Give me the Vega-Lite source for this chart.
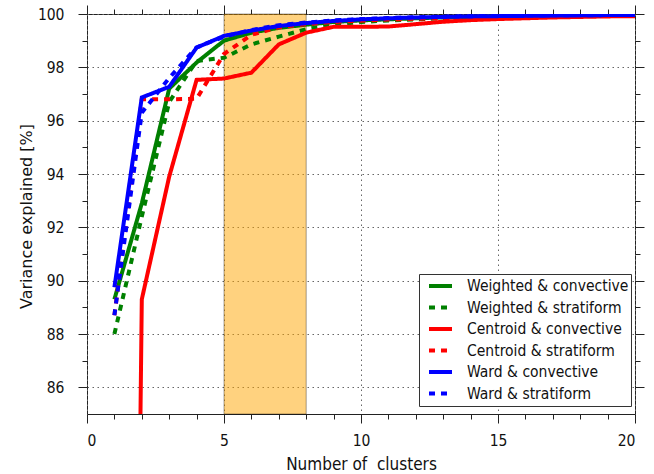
{
  "$schema": "https://vega.github.io/schema/vega-lite/v6.json",
  "width": 548,
  "height": 400,
  "autosize": {"type": "none"},
  "padding": {"left": 87, "top": 14, "right": 19, "bottom": 60},
  "background": "white",
  "config": {
    "view": {"stroke": "#222", "strokeWidth": 1},
    "axis": {
      "domain": false,
      "tickColor": "#222",
      "tickWidth": 1,
      "labelFont": "DejaVu Sans Condensed, DejaVu Sans",
      "labelFontSize": 15.5,
      "labelColor": "#111",
      "titleFont": "DejaVu Sans Condensed, DejaVu Sans",
      "titleFontSize": 17,
      "titleFontWeight": "normal",
      "titleColor": "#111",
      "gridColor": "#666",
      "gridDash": [1.5, 3.5],
      "gridWidth": 1
    },
    "legend": {
      "symbolType": "stroke",
      "symbolSize": 529,
      "symbolStrokeWidth": 4,
      "labelFont": "DejaVu Sans Condensed, DejaVu Sans",
      "labelFontSize": 15.5,
      "labelColor": "#111",
      "labelOffset": 13,
      "labelLimit": 400,
      "padding": 2,
      "symbolOffset": 6,
      "strokeColor": "#333",
      "fillColor": "white",
      "clipHeight": 20,
      "rowPadding": 1.5
    }
  },
  "datasets": {
    "band": [{"x0": 5, "x1": 8}],
    "lines": [
      {"s": "Weighted & convective", "x": 1, "y": 89.3},
      {"s": "Weighted & convective", "x": 2, "y": 92.9},
      {"s": "Weighted & convective", "x": 3, "y": 97.2},
      {"s": "Weighted & convective", "x": 4, "y": 98.18},
      {"s": "Weighted & convective", "x": 5, "y": 99.0},
      {"s": "Weighted & convective", "x": 6, "y": 99.3},
      {"s": "Weighted & convective", "x": 7, "y": 99.48},
      {"s": "Weighted & convective", "x": 8, "y": 99.6},
      {"s": "Weighted & convective", "x": 9, "y": 99.7},
      {"s": "Weighted & convective", "x": 10, "y": 99.76},
      {"s": "Weighted & convective", "x": 11, "y": 99.8},
      {"s": "Weighted & convective", "x": 12, "y": 99.84},
      {"s": "Weighted & convective", "x": 13, "y": 99.87},
      {"s": "Weighted & convective", "x": 14, "y": 99.89},
      {"s": "Weighted & convective", "x": 15, "y": 99.91},
      {"s": "Weighted & convective", "x": 16, "y": 99.92},
      {"s": "Weighted & convective", "x": 17, "y": 99.93},
      {"s": "Weighted & convective", "x": 18, "y": 99.94},
      {"s": "Weighted & convective", "x": 19, "y": 99.95},
      {"s": "Weighted & convective", "x": 20, "y": 99.95},
      {"s": "Weighted & stratiform", "x": 1, "y": 88.0},
      {"s": "Weighted & stratiform", "x": 2, "y": 92.4},
      {"s": "Weighted & stratiform", "x": 3, "y": 96.7},
      {"s": "Weighted & stratiform", "x": 4, "y": 98.24},
      {"s": "Weighted & stratiform", "x": 5, "y": 98.36},
      {"s": "Weighted & stratiform", "x": 6, "y": 98.86},
      {"s": "Weighted & stratiform", "x": 7, "y": 99.15},
      {"s": "Weighted & stratiform", "x": 8, "y": 99.43},
      {"s": "Weighted & stratiform", "x": 9, "y": 99.6},
      {"s": "Weighted & stratiform", "x": 10, "y": 99.7},
      {"s": "Weighted & stratiform", "x": 11, "y": 99.76},
      {"s": "Weighted & stratiform", "x": 12, "y": 99.8},
      {"s": "Weighted & stratiform", "x": 13, "y": 99.84},
      {"s": "Weighted & stratiform", "x": 14, "y": 99.87},
      {"s": "Weighted & stratiform", "x": 15, "y": 99.89},
      {"s": "Weighted & stratiform", "x": 16, "y": 99.9},
      {"s": "Weighted & stratiform", "x": 17, "y": 99.92},
      {"s": "Weighted & stratiform", "x": 18, "y": 99.93},
      {"s": "Weighted & stratiform", "x": 19, "y": 99.94},
      {"s": "Weighted & stratiform", "x": 20, "y": 99.95},
      {"s": "Centroid & convective", "x": 1, "y": 0},
      {"s": "Centroid & convective", "x": 2, "y": 89.3},
      {"s": "Centroid & convective", "x": 3, "y": 93.9},
      {"s": "Centroid & convective", "x": 4, "y": 97.53},
      {"s": "Centroid & convective", "x": 5, "y": 97.58},
      {"s": "Centroid & convective", "x": 6, "y": 97.8},
      {"s": "Centroid & convective", "x": 7, "y": 98.86},
      {"s": "Centroid & convective", "x": 8, "y": 99.3},
      {"s": "Centroid & convective", "x": 9, "y": 99.52},
      {"s": "Centroid & convective", "x": 10, "y": 99.52},
      {"s": "Centroid & convective", "x": 11, "y": 99.53},
      {"s": "Centroid & convective", "x": 12, "y": 99.62},
      {"s": "Centroid & convective", "x": 13, "y": 99.71},
      {"s": "Centroid & convective", "x": 14, "y": 99.77},
      {"s": "Centroid & convective", "x": 15, "y": 99.81},
      {"s": "Centroid & convective", "x": 16, "y": 99.84},
      {"s": "Centroid & convective", "x": 17, "y": 99.87},
      {"s": "Centroid & convective", "x": 18, "y": 99.89},
      {"s": "Centroid & convective", "x": 19, "y": 99.91},
      {"s": "Centroid & convective", "x": 20, "y": 99.92},
      {"s": "Centroid & stratiform", "x": 1, "y": 88.7},
      {"s": "Centroid & stratiform", "x": 2, "y": 96.8},
      {"s": "Centroid & stratiform", "x": 3, "y": 96.8},
      {"s": "Centroid & stratiform", "x": 4, "y": 96.82},
      {"s": "Centroid & stratiform", "x": 5, "y": 98.5},
      {"s": "Centroid & stratiform", "x": 6, "y": 99.22},
      {"s": "Centroid & stratiform", "x": 7, "y": 99.5},
      {"s": "Centroid & stratiform", "x": 8, "y": 99.62},
      {"s": "Centroid & stratiform", "x": 9, "y": 99.7},
      {"s": "Centroid & stratiform", "x": 10, "y": 99.75},
      {"s": "Centroid & stratiform", "x": 11, "y": 99.79},
      {"s": "Centroid & stratiform", "x": 12, "y": 99.82},
      {"s": "Centroid & stratiform", "x": 13, "y": 99.85},
      {"s": "Centroid & stratiform", "x": 14, "y": 99.87},
      {"s": "Centroid & stratiform", "x": 15, "y": 99.89},
      {"s": "Centroid & stratiform", "x": 16, "y": 99.9},
      {"s": "Centroid & stratiform", "x": 17, "y": 99.92},
      {"s": "Centroid & stratiform", "x": 18, "y": 99.93},
      {"s": "Centroid & stratiform", "x": 19, "y": 99.94},
      {"s": "Centroid & stratiform", "x": 20, "y": 99.95},
      {"s": "Ward & convective", "x": 1, "y": 89.75},
      {"s": "Ward & convective", "x": 2, "y": 96.87},
      {"s": "Ward & convective", "x": 3, "y": 97.27},
      {"s": "Ward & convective", "x": 4, "y": 98.74},
      {"s": "Ward & convective", "x": 5, "y": 99.18},
      {"s": "Ward & convective", "x": 6, "y": 99.38},
      {"s": "Ward & convective", "x": 7, "y": 99.55},
      {"s": "Ward & convective", "x": 8, "y": 99.66},
      {"s": "Ward & convective", "x": 9, "y": 99.74},
      {"s": "Ward & convective", "x": 10, "y": 99.8},
      {"s": "Ward & convective", "x": 11, "y": 99.84},
      {"s": "Ward & convective", "x": 12, "y": 99.87},
      {"s": "Ward & convective", "x": 13, "y": 99.89},
      {"s": "Ward & convective", "x": 14, "y": 99.91},
      {"s": "Ward & convective", "x": 15, "y": 99.92},
      {"s": "Ward & convective", "x": 16, "y": 99.93},
      {"s": "Ward & convective", "x": 17, "y": 99.94},
      {"s": "Ward & convective", "x": 18, "y": 99.95},
      {"s": "Ward & convective", "x": 19, "y": 99.96},
      {"s": "Ward & convective", "x": 20, "y": 99.96},
      {"s": "Ward & stratiform", "x": 1, "y": 88.7},
      {"s": "Ward & stratiform", "x": 2, "y": 96.3},
      {"s": "Ward & stratiform", "x": 3, "y": 97.6},
      {"s": "Ward & stratiform", "x": 4, "y": 98.75},
      {"s": "Ward & stratiform", "x": 5, "y": 99.15},
      {"s": "Ward & stratiform", "x": 6, "y": 99.4},
      {"s": "Ward & stratiform", "x": 7, "y": 99.58},
      {"s": "Ward & stratiform", "x": 8, "y": 99.68},
      {"s": "Ward & stratiform", "x": 9, "y": 99.76},
      {"s": "Ward & stratiform", "x": 10, "y": 99.81},
      {"s": "Ward & stratiform", "x": 11, "y": 99.85},
      {"s": "Ward & stratiform", "x": 12, "y": 99.88},
      {"s": "Ward & stratiform", "x": 13, "y": 99.9},
      {"s": "Ward & stratiform", "x": 14, "y": 99.92},
      {"s": "Ward & stratiform", "x": 15, "y": 99.93},
      {"s": "Ward & stratiform", "x": 16, "y": 99.94},
      {"s": "Ward & stratiform", "x": 17, "y": 99.95},
      {"s": "Ward & stratiform", "x": 18, "y": 99.95},
      {"s": "Ward & stratiform", "x": 19, "y": 99.96},
      {"s": "Ward & stratiform", "x": 20, "y": 99.96}
    ]
  },
  "layer": [
    {
      "data": {"name": "band"},
      "mark": {"type": "rect", "fill": "#FFA500", "fillOpacity": 0.5, "stroke": "#000", "strokeOpacity": 0.35, "strokeWidth": 1},
      "encoding": {
        "x": {"field": "x0", "type": "quantitative", "scale": {"domain": [0, 20], "nice": false, "zero": false}, "axis": null},
        "x2": {"field": "x1"}
      }
    },
    {
      "data": {"name": "lines"},
      "mark": {"type": "point", "opacity": 0, "clip": true},
      "encoding": {
        "x": {"field": "x", "type": "quantitative", "scale": {"domain": [0, 20], "nice": false, "zero": false},
          "axis": {"orient": "top", "values": [1, 2, 3, 4, 6, 7, 8, 9, 11, 12, 13, 14, 16, 17, 18, 19], "tickSize": 5, "labels": false, "grid": false, "title": null}},
        "y": {"field": "y", "type": "quantitative", "scale": {"domain": [85, 100], "nice": false, "zero": false},
          "axis": {"orient": "right", "values": [87, 89, 91, 93, 95, 97, 99], "tickSize": 5, "labels": false, "grid": false, "title": null}}
      }
    },
    {
      "data": {"name": "lines"},
      "mark": {"type": "point", "opacity": 0, "clip": true},
      "encoding": {
        "x": {"field": "x", "type": "quantitative", "scale": {"domain": [0, 20], "nice": false, "zero": false},
          "axis": {"orient": "top", "values": [0, 5, 10, 15, 20], "tickSize": 9, "labels": false, "grid": false, "title": null}},
        "y": {"field": "y", "type": "quantitative", "scale": {"domain": [85, 100], "nice": false, "zero": false},
          "axis": {"orient": "right", "values": [86, 88, 90, 92, 94, 96, 98, 100], "tickSize": 9, "labels": false, "grid": false, "title": null}}
      }
    },
    {
      "data": {"name": "lines"},
      "mark": {"type": "point", "opacity": 0, "clip": true},
      "encoding": {
        "x": {"field": "x", "type": "quantitative", "scale": {"domain": [0, 20], "nice": false, "zero": false},
          "axis": {"orient": "bottom", "values": [1, 2, 3, 4, 6, 7, 8, 9, 11, 12, 13, 14, 16, 17, 18, 19], "tickSize": 5, "labels": false, "grid": false, "title": null}},
        "y": {"field": "y", "type": "quantitative", "scale": {"domain": [85, 100], "nice": false, "zero": false},
          "axis": {"orient": "left", "values": [87, 89, 91, 93, 95, 97, 99], "tickSize": 5, "labels": false, "grid": false, "title": null}}
      }
    },
    {
      "data": {"name": "lines"},
      "mark": {"type": "line", "strokeWidth": 4, "strokeCap": "butt", "clip": true},
      "encoding": {
        "x": {"field": "x", "type": "quantitative", "scale": {"domain": [0, 20], "nice": false, "zero": false},
          "axis": {"orient": "bottom", "values": [0, 5, 10, 15, 20], "format": "d", "tickSize": 9, "labelPadding": 10, "grid": true,
            "title": "Number of\u00a0 clusters", "titleY": 55, "titleBaseline": "alphabetic"}},
        "y": {"field": "y", "type": "quantitative", "scale": {"domain": [85, 100], "nice": false, "zero": false},
          "axis": {"orient": "left", "values": [86, 88, 90, 92, 94, 96, 98, 100], "format": "d", "tickSize": 9, "labelPadding": 14, "grid": true,
            "title": "Variance explained [%]", "titleFont": "DejaVu Sans", "titleFontSize": 16, "titleAngle": -90, "titleX": -61, "titleY": 202,
            "titleBaseline": "middle", "titleAlign": "center"}},
        "color": {"field": "s", "type": "nominal",
          "scale": {"domain": ["Weighted & convective", "Weighted & stratiform", "Centroid & convective", "Centroid & stratiform", "Ward & convective", "Ward & stratiform"],
            "range": ["#008000", "#008000", "#FF0000", "#FF0000", "#0000FF", "#0000FF"]},
          "legend": {"orient": "none", "legendX": 332, "legendY": 260, "title": null}},
        "strokeDash": {"field": "s", "type": "nominal",
          "scale": {"domain": ["Weighted & convective", "Weighted & stratiform", "Centroid & convective", "Centroid & stratiform", "Ward & convective", "Ward & stratiform"],
            "range": [[1, 0], [6, 6], [1, 0], [6, 6], [1, 0], [6, 6]]},
          "legend": {"orient": "none", "legendX": 332, "legendY": 260, "title": null}}
      }
    }
  ],
  "resolve": {"axis": {"x": "independent", "y": "independent"}}
}
